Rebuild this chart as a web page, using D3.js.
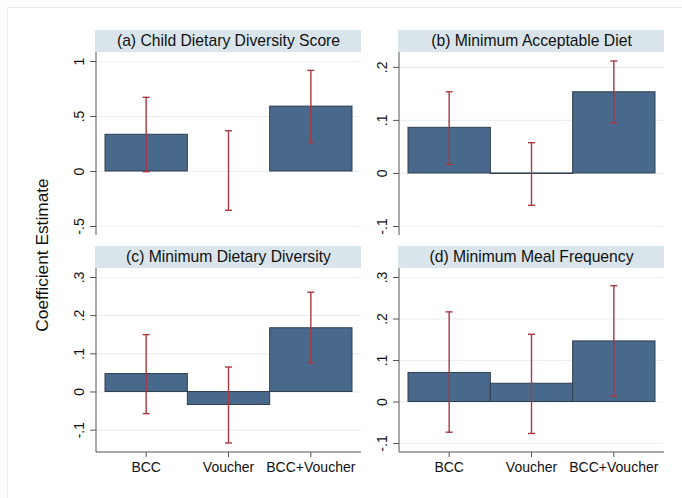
<!DOCTYPE html>
<html>
<head>
<meta charset="utf-8">
<script src="https://cdn.jsdelivr.net/npm/d3@7"></script>
<style>
  html, body { margin: 0; padding: 0; background: #fff; }
  svg { display: block; font-family: "Liberation Sans", Arial, sans-serif; }
</style>
</head>
<body>
<svg id="chart" width="682" height="498"></svg>
<script>
// ---- Data ----
const categories = ['BCC', 'Voucher', 'BCC+Voucher'];
const titles = [
  '(a) Child Dietary Diversity Score',
  '(b) Minimum Acceptable Diet',
  '(c) Minimum Dietary Diversity',
  '(d) Minimum Meal Frequency'
];
const estimates = [
  [0.334, 0.000, 0.590],
  [0.086, -0.001, 0.153],
  [0.047, -0.034, 0.167],
  [0.070, 0.044, 0.146]
];
const ciLow = [
  [-0.006, -0.357, 0.260],
  [0.016, -0.061, 0.094],
  [-0.058, -0.135, 0.075],
  [-0.074, -0.077, 0.013]
];
const ciHigh = [
  [0.670, 0.366, 0.915],
  [0.153, 0.057, 0.211],
  [0.149, 0.064, 0.260],
  [0.216, 0.162, 0.279]
];
const yTicks = [
  [-0.5, 0, 0.5, 1],
  [-0.1, 0, 0.1, 0.2],
  [-0.1, 0, 0.1, 0.2, 0.3],
  [-0.1, 0, 0.1, 0.2, 0.3]
];

// ---- Layout ----
const colX = [96, 399];        // y-axis position of each column
const panelW = 265;
const rowTop = [52, 268];      // top of plot region (below strip)
const panelH = [183, 184];
const stripH = 22;
const inset = 9;               // Stata plot-region margin

const BAR_FILL = '#48698b';
const BAR_EDGE = '#2f3f4f';
const CI_COLOR = '#a8383f';
const GRID = '#e8f0f2';
const STRIP = '#d9e5eb';
const AXIS = '#555';

const fmtTick = v => v === 0 ? '0' : String(v).replace('0.', '.');

const svg = d3.select('#chart');

// faint outer frame
svg.append('rect')
  .attr('x', 7.5).attr('y', 7.5)
  .attr('width', 800).attr('height', 700)
  .attr('fill', 'none').attr('stroke', '#ececec');

titles.forEach((title, i) => {
  const col = i % 2, row = Math.floor(i / 2);
  const x0 = colX[col], y0 = rowTop[row];
  const w = panelW, h = panelH[row];
  const g = svg.append('g').attr('transform', `translate(${x0},${y0})`);

  const lo = d3.min([...ciLow[i], ...estimates[i], ...yTicks[i]]);
  const hi = d3.max([...ciHigh[i], ...estimates[i], ...yTicks[i]]);

  const x = d3.scaleBand().domain(categories).range([inset, w - inset]).paddingInner(0).paddingOuter(0);
  const y = d3.scaleLinear().domain([lo, hi]).range([h - inset, inset]);

  // strip title
  g.append('rect')
    .attr('x', -1).attr('y', -stripH)
    .attr('width', w + 1).attr('height', stripH)
    .attr('fill', STRIP);
  g.append('text')
    .attr('x', w / 2).attr('y', -6)
    .attr('text-anchor', 'middle')
    .attr('font-size', '15.7px')
    .attr('fill', '#111')
    .text(title);

  // gridlines
  g.append('g')
    .call(d3.axisLeft(y).tickValues(yTicks[i]).tickSize(-w).tickFormat(() => ''))
    .call(s => s.select('.domain').remove())
    .selectAll('line').attr('stroke', GRID).attr('stroke-width', 1.2);

  // bars
  const rows = categories.map((c, j) => ({ c, v: estimates[i][j], lo: ciLow[i][j], hi: ciHigh[i][j] }));
  g.selectAll('.bar')
    .data(rows)
    .join('rect')
    .attr('class', 'bar')
    .attr('x', d => x(d.c))
    .attr('width', x.bandwidth())
    .attr('y', d => y(Math.max(0, d.v)))
    .attr('height', d => Math.abs(y(d.v) - y(0)))
    .attr('fill', BAR_FILL)
    .attr('stroke', BAR_EDGE)
    .attr('stroke-width', 1);

  // confidence intervals
  const cx = d => x(d.c) + x.bandwidth() / 2;
  const ci = g.selectAll('.ci').data(rows).join('g').attr('class', 'ci')
    .attr('stroke', CI_COLOR).attr('stroke-width', 1.4);
  ci.append('line')
    .attr('x1', cx).attr('x2', cx)
    .attr('y1', d => y(d.lo)).attr('y2', d => y(d.hi));
  ci.append('line')
    .attr('x1', d => cx(d) - 3.5).attr('x2', d => cx(d) + 3.5)
    .attr('y1', d => y(d.hi)).attr('y2', d => y(d.hi));
  ci.append('line')
    .attr('x1', d => cx(d) - 3.5).attr('x2', d => cx(d) + 3.5)
    .attr('y1', d => y(d.lo)).attr('y2', d => y(d.lo));

  // y axis
  const ya = g.append('g')
    .call(d3.axisLeft(y).tickValues(yTicks[i]).tickSize(6).tickFormat(fmtTick))
    .call(s => s.select('.domain').remove());
  ya.selectAll('line').attr('stroke', AXIS);
  ya.selectAll('text')
    .attr('transform', 'rotate(-90)')
    .attr('x', 0).attr('y', -12).attr('dy', 0)
    .attr('text-anchor', 'middle')
    .attr('font-size', '14px')
    .attr('font-family', '"Liberation Sans", Arial, sans-serif')
    .attr('fill', '#111');
  g.append('line')
    .attr('x1', 0).attr('x2', 0).attr('y1', 0).attr('y2', h)
    .attr('stroke', AXIS);

  // x axis only on bottom row
  if (row === 1) {
    const xa = g.append('g')
      .attr('transform', `translate(0,${h})`)
      .call(d3.axisBottom(x).tickSize(5).tickPadding(5))
      .call(s => s.select('.domain').remove());
    xa.selectAll('line').attr('stroke', AXIS);
    xa.selectAll('text')
      .attr('font-size', '14px')
      .attr('font-family', '"Liberation Sans", Arial, sans-serif')
      .attr('fill', '#111');
    g.append('line')
      .attr('x1', 0).attr('x2', w).attr('y1', h).attr('y2', h)
      .attr('stroke', AXIS);
  }
});

// shared y-axis title
svg.append('text')
  .attr('transform', 'translate(48,255) rotate(-90)')
  .attr('text-anchor', 'middle')
  .attr('font-size', '17.3px')
  .attr('fill', '#111')
  .text('Coefficient Estimate');
</script>
</body>
</html>
